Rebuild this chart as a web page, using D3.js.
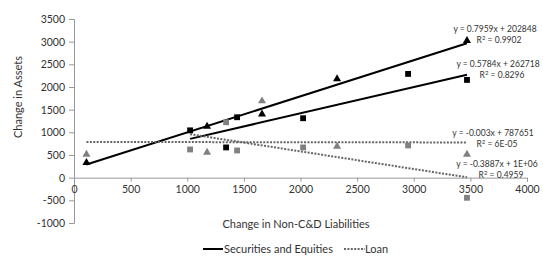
<!DOCTYPE html>
<html lang="en">
<head>
<meta charset="UTF-8">
<title>Change in Assets vs Change in Non-C&amp;D Liabilities</title>
<script src="https://d3js.org/d3.v7.min.js"></script>
<style>
    body { margin: 0; background: white; }
    svg text { font-family: Lato, "Open Sans", sans-serif; fill: #333; }
    .axis path, .axis line { stroke: #999; }
    .eq { font-size: 8.5px; }
</style>
</head>
<body>
<svg width="543" height="262"></svg>
<script>
    // triangle group (x values shared by the two triangle series)
    var triX = [110, 1175, 1660, 2323, 3470];
    var secTri = [330, 1133, 1400, 2178, 3020];
    var loanTri = [511, 555, 1690, 689, 511];
    // square group
    var sqX = [1025, 1343, 1440, 2023, 2950, 3470];
    var secSq = [1044, 667, 1333, 1311, 2289, 2156];
    var loanSq = [622, 1222, 600, 667, 711, -444];

    // trendlines: y = slope*x + intercept (thousands), drawn from..to
    var trendSlope = [0.7959, 0.5784, -0.003, -0.3887];
    var trendIntercept = [202.848, 262.718, 787.651, 1357];
    var trendFrom = [110, 1025, 110, 1025];
    var trendTo = [3470, 3470, 3470, 3470];
    var trendEq = ["y = 0.7959x + 202848", "y = 0.5784x + 262718", "y = -0.003x + 787651", "y = -0.3887x + 1E+06"];
    var trendR2 = ["0.9902", "0.8296", "6E-05", "0.4959"];

    var xTicks = [0, 500, 1000, 1500, 2000, 2500, 3000, 3500, 4000];
    var yTicks = [-1000, -500, 0, 500, 1000, 1500, 2000, 2500, 3000, 3500];

    var svg = d3.select("svg");
    var x = d3.scaleLinear().domain([0, 4000]).range([74, 527]);
    var y = d3.scaleLinear().domain([-1000, 3500]).range([223, 19]);

    // axes
    var yAxis = svg.append("g").attr("class", "axis")
        .attr("transform", "translate(" + x(0) + ",0)")
        .call(d3.axisLeft(y).tickValues(yTicks).tickSize(5).tickSizeOuter(5).tickFormat(function(d) { return String(d); }));
    yAxis.selectAll("text").attr("font-size", "10.5px").attr("x", -9);

    var xAxis = svg.append("g").attr("class", "axis")
        .attr("transform", "translate(0," + y(0) + ")")
        .call(d3.axisBottom(x).tickValues(xTicks).tickSize(4).tickSizeOuter(4).tickFormat(function(d) { return String(d); }));
    xAxis.selectAll("text").attr("font-size", "10.5px").attr("y", 8);
    svg.selectAll(".axis text").attr("fill", "#333");

    svg.append("text")
        .attr("transform", "translate(22," + 97 + ") rotate(-90)")
        .attr("text-anchor", "middle")
        .attr("font-size", "11px")
        .text("Change in Assets");

    svg.append("text")
        .attr("x", 296).attr("y", 228)
        .attr("text-anchor", "middle")
        .attr("font-size", "11px")
        .text("Change in Non-C&D Liabilities");

    // trendlines
    var line = d3.line().x(function(d) { return x(d[0]); }).y(function(d) { return y(d[1]); });
    trendSlope.forEach(function(m, i) {
        var b = trendIntercept[i];
        var pts = [[trendFrom[i], m * trendFrom[i] + b], [trendTo[i], m * trendTo[i] + b]];
        svg.append("path")
            .attr("d", line(pts))
            .attr("fill", "none")
            .attr("stroke", i < 2 ? "#000" : "#666")
            .attr("stroke-width", 2)
            .attr("stroke-dasharray", i < 2 ? null : "2,1.4");
    });

    // markers
    var tri = d3.symbol().type(d3.symbolTriangle).size(28);
    var sq = d3.symbol().type(d3.symbolSquare).size(34);
    function drawSeries(xs, ys, sym, color) {
        svg.append("g").selectAll("path")
            .data(ys)
            .enter().append("path")
            .attr("d", sym)
            .attr("fill", color)
            .attr("transform", function(d, i) { return "translate(" + x(xs[i]) + "," + y(d) + ")"; });
    }
    drawSeries(triX, loanTri, tri, "#808080");
    drawSeries(sqX, loanSq, sq, "#808080");
    drawSeries(triX, secTri, tri, "#000");
    drawSeries(sqX, secSq, sq, "#000");

    // equation labels
    var eqPos = [[495, 32], [498, 67], [493, 136], [497, 167]];
    trendEq.forEach(function(t, i) {
        var g = svg.append("g").attr("class", "eq").attr("text-anchor", "middle");
        g.append("text").attr("x", eqPos[i][0]).attr("y", eqPos[i][1]).text(t);
        var r = g.append("text").attr("x", eqPos[i][0] + 4).attr("y", eqPos[i][1] + 11);
        r.append("tspan").text("R");
        r.append("tspan").attr("dy", -3).attr("font-size", "6px").text("2");
        r.append("tspan").attr("dy", 3).text(" = " + trendR2[i]);
    });

    // legend
    var legend = svg.append("g").attr("transform", "translate(0,249)");
    legend.append("line").attr("x1", 203).attr("x2", 223).attr("y1", 0).attr("y2", 0)
        .attr("stroke", "#000").attr("stroke-width", 2);
    legend.append("text").attr("x", 224).attr("y", 4).attr("font-size", "11px").text("Securities and Equities");
    legend.append("line").attr("x1", 344).attr("x2", 365).attr("y1", 0).attr("y2", 0)
        .attr("stroke", "#666").attr("stroke-width", 2).attr("stroke-dasharray", "2,1.4");
    legend.append("text").attr("x", 365).attr("y", 4).attr("font-size", "11px").text("Loan");
</script>
</body>
</html>
